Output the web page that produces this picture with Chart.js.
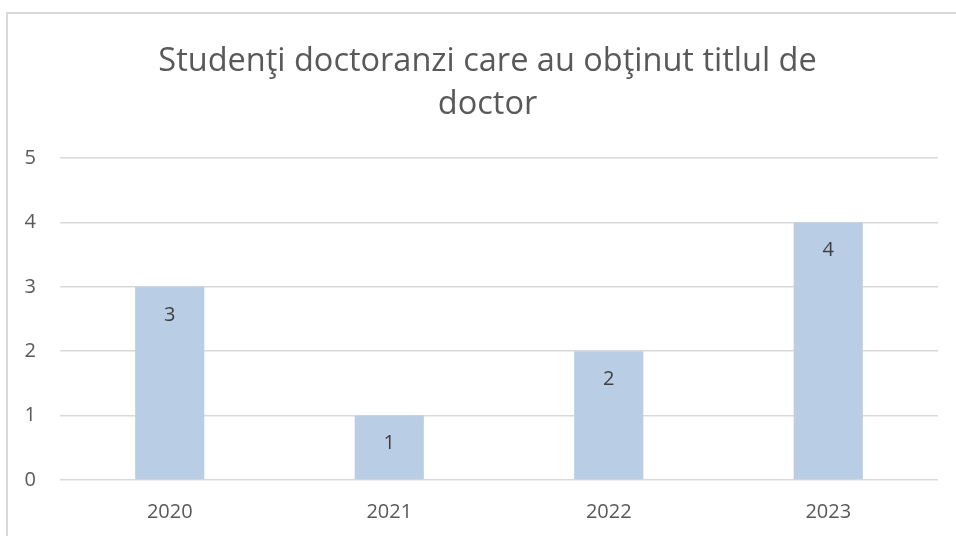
<!DOCTYPE html>
<html>
<head>
<meta charset="utf-8">
<script src="https://cdn.jsdelivr.net/npm/chart.js@4/dist/chart.umd.min.js"></script>
<style>
  html, body { margin: 0; padding: 0; background: #fff; }
  #wrap { width: 956px; height: 536px; }
</style>
</head>
<body>
<div id="wrap"><canvas id="chart"></canvas></div>
<script>
// chart data
const titleLines = ['Studenţi doctoranzi care au obţinut titlul de', 'doctor'];
const years = ['2020', '2021', '2022', '2023'];
const graduates = [3, 1, 2, 4];
const yTicks = [0, 1, 2, 3, 4, 5];

const FONT = "'Open Sans', 'DejaVu Sans', sans-serif";
const gray = '#595959';

// light frame round the chart, like the Excel chart area
const framePlugin = {
  id: 'frame',
  beforeDraw(chart) {
    const ctx = chart.ctx;
    ctx.save();
    ctx.strokeStyle = '#d9d9d9';
    ctx.lineWidth = 2;
    ctx.beginPath();
    ctx.moveTo(7, 536);
    ctx.lineTo(7, 13);
    ctx.lineTo(956, 13);
    ctx.stroke();
    ctx.restore();
  }
};

// value labels inside the top of each bar
const valueLabels = {
  id: 'valueLabels',
  afterDatasetsDraw(chart) {
    const ctx = chart.ctx;
    const meta = chart.getDatasetMeta(0);
    ctx.save();
    ctx.font = '20px ' + FONT;
    ctx.fillStyle = '#404040';
    ctx.textAlign = 'center';
    ctx.textBaseline = 'middle';
    meta.data.forEach(function (bar, i) {
      const p = bar.getProps(['x', 'y'], true);
      ctx.fillText(String(graduates[i]), p.x, p.y + 28);
    });
    ctx.restore();
  }
};

const ctx = document.getElementById('chart').getContext('2d');
const chart = new Chart(ctx, {
  type: 'bar',
  data: {
    labels: years,
    datasets: [{
      label: 'Studenţi',
      data: graduates,
      backgroundColor: '#b9cde5',
      borderWidth: 0,
      categoryPercentage: 1,
      barPercentage: 0.315
    }]
  },
  options: {
    responsive: true,
    maintainAspectRatio: false,
    animation: false,
    // left padding pushes the title centre right, as in the original (cropped) chart
    layout: { padding: { left: 19, right: 0, top: 0, bottom: 0 } },
    plugins: {
      legend: { display: false },
      tooltip: { enabled: false },
      title: {
        display: true,
        text: titleLines,
        color: gray,
        font: { family: FONT, size: 32.5, weight: 'normal', lineHeight: 43 / 32.5 },
        padding: { top: 40, bottom: 32 }
      }
    },
    scales: {
      x: {
        grid: { display: false, drawTicks: false },
        border: { display: false },
        ticks: { color: gray, font: { family: FONT, size: 20 }, padding: 20 },
        afterFit(scale) { scale.height = 56; }
      },
      y: {
        min: yTicks[0],
        max: yTicks[yTicks.length - 1],
        afterBuildTicks(scale) { scale.ticks = yTicks.map(v => ({ value: v })); },
        grid: { color: '#d9d9d9', lineWidth: 1.5, drawTicks: false },
        border: { display: false },
        ticks: { color: gray, font: { family: FONT, size: 20 }, padding: 24 },
        afterFit(scale) { scale.width = 41; }
      },
      // empty right-hand axis, only keeps the gap right of the plot
      yGap: {
        position: 'right',
        grid: { display: false, drawTicks: false },
        border: { display: false },
        ticks: { display: false },
        afterFit(scale) { scale.width = 18; }
      }
    }
  },
  plugins: [framePlugin, valueLabels]
});
</script>
</body>
</html>
